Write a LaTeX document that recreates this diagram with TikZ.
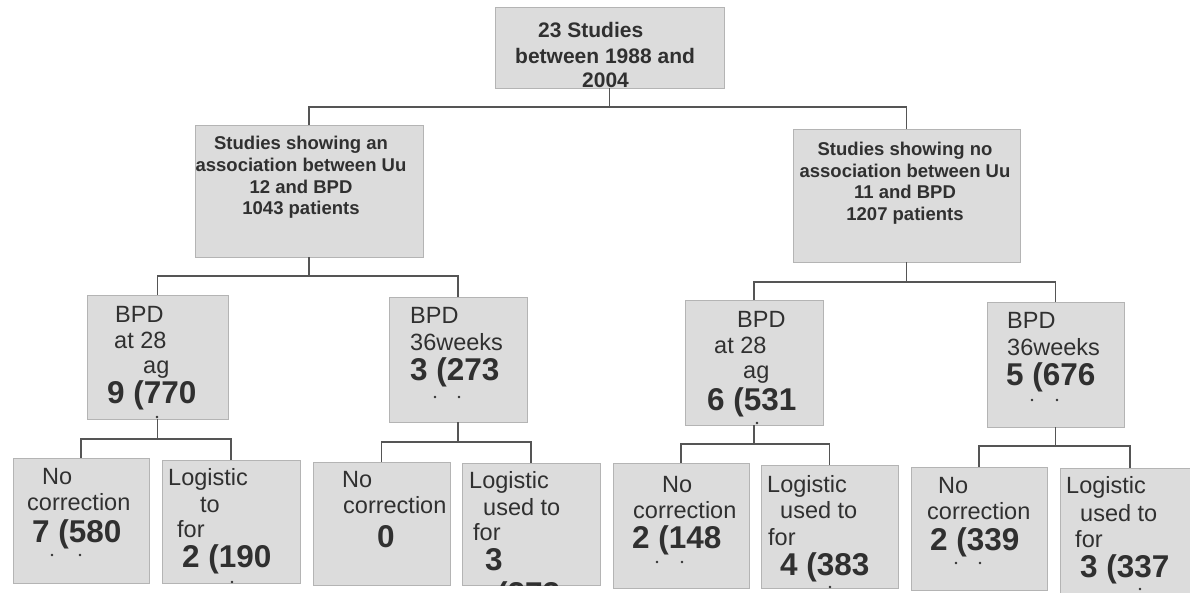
\documentclass[tikz,border=0pt]{standalone}
\usepackage{fontspec}
\setmainfont{Liberation Sans}
\definecolor{boxfill}{HTML}{DCDCDC}
\definecolor{boxline}{HTML}{B4B4B4}
\definecolor{linecol}{HTML}{555555}
\definecolor{txt}{HTML}{303030}
\tikzset{
  box/.style={draw=boxline, fill=boxfill, line width=0.8pt, inner sep=0pt, outer sep=0pt},
  conn/.style={draw=linecol, line width=1.3pt},
  reg/.style={font=\fontsize{23.5}{28}\selectfont, text=txt, inner sep=0pt, anchor=base west},
  big/.style={font=\fontsize{31.5}{36}\selectfont\bfseries, text=txt, inner sep=0pt, anchor=base west},
  topt/.style={font=\fontsize{21}{25}\selectfont\bfseries, text=txt, inner sep=0pt, anchor=base west},
  midt/.style={font=\fontsize{18.5}{22}\selectfont\bfseries, text=txt, inner sep=0pt, anchor=base},
  speck/.style={fill=txt, draw=none, circle, inner sep=0pt, minimum size=2.6pt}
}
\begin{document}
\begin{tikzpicture}[x=1pt,y=-1pt]
\clip (0,0) rectangle (1190,592);
\fill[white] (0,0) rectangle (1190,592);
% boxes
\node[box, minimum width=229pt, minimum height=81pt] (top) at (609.5,47.5) {};
\node[box, minimum width=228pt, minimum height=132pt] (midL) at (309,191) {};
\node[box, minimum width=227pt, minimum height=133pt] (midR) at (906.5,195.5) {};
\node[box, minimum width=141pt, minimum height=124pt] (A) at (157.5,357) {};
\node[box, minimum width=138pt, minimum height=125pt] (D) at (458,359.5) {};
\node[box, minimum width=138pt, minimum height=125pt] (G) at (754,362.5) {};
\node[box, minimum width=137pt, minimum height=125pt] (J) at (1055.5,364.5) {};
\node[box, minimum width=136pt, minimum height=125pt] (B) at (81,520.5) {};
\node[box, minimum width=138pt, minimum height=123pt] (C) at (231,521.5) {};
\node[box, minimum width=137pt, minimum height=123pt] (E) at (381.5,523.5) {};
\node[box, minimum width=138pt, minimum height=122pt] (F) at (531,524) {};
\node[box, minimum width=136pt, minimum height=125pt] (H) at (681,525.5) {};
\node[box, minimum width=137pt, minimum height=123pt] (I) at (829.5,526.5) {};
\node[box, minimum width=136pt, minimum height=123pt] (K) at (979,528.5) {};
\node[box, minimum width=140pt, minimum height=125pt] (L) at (1130,530.5) {};
% connectors
\draw[conn] (top.south) -- ++(0,19) -| (midL.north);
\draw[conn] (top.south) -- ++(0,19) -| (midR.north);
\draw[conn] (midL.south) -- ++(0,19) -| (A.north);
\draw[conn] (midL.south) -- ++(0,19) -| (D.north);
\draw[conn] (midR.south) -- ++(0,20) -| (G.north);
\draw[conn] (midR.south) -- ++(0,20) -| (J.north);
\draw[conn] (A.south) -- ++(0,20) -| (B.north);
\draw[conn] (A.south) -- ++(0,20) -| (C.north);
\draw[conn] (D.south) -- ++(0,20) -| (E.north);
\draw[conn] (D.south) -- ++(0,20) -| (F.north);
\draw[conn] (G.south) -- ++(0,19) -| (H.north);
\draw[conn] (G.south) -- ++(0,19) -| (I.north);
\draw[conn] (J.south) -- ++(0,19) -| (K.north);
\draw[conn] (J.south) -- ++(0,19) -| (L.north);
% top text
\node[topt] (t1) at (538,37) {23 Studies};
\node[topt] (t2) at (515,63) {between 1988 and};
\node[topt] (t3) at (582,87) {2004};
% mid texts
\node[midt] (l1) at (301,149) {Studies showing an};
\node[midt] (l2) at (301,171) {association between Uu};
\node[midt] (l3) at (301,193) {12 and BPD};
\node[midt] (l4) at (301,214) {1043 patients};
\node[midt] (r1) at (905,155) {Studies showing no};
\node[midt] (r2) at (905,177) {association between Uu};
\node[midt] (r3) at (905,198) {11 and BPD};
\node[midt] (r4) at (905,220) {1207 patients};
% A
\node[reg] (a1) at (115,322) {BPD};
\node[reg] (a2) at (114,348) {at 28};
\node[reg] (a3) at (143,373) {ag};
\node[big] (a4) at (107,403) {9 (770};
% D
\node[reg] (d1) at (410,323) {BPD};
\node[reg] (d2) at (410,350) {36weeks};
\node[big] (d3) at (410,380) {3 (273};
% G
\node[reg] (g1) at (737,327) {BPD};
\node[reg] (g2) at (714,353) {at 28};
\node[reg] (g3) at (743,378) {ag};
\node[big] (g4) at (707,410) {6 (531};
% J
\node[reg] (j1) at (1007,328) {BPD};
\node[reg] (j2) at (1007,355) {36weeks};
\node[big] (j3) at (1006,385) {5 (676};
% B
\node[reg] (b1) at (42,484) {No};
\node[reg] (b2) at (27,510) {correction};
\node[big] (b3) at (32,542) {7 (580};
% C
\node[reg] (c1) at (168,485) {Logistic};
\node[reg] (c2) at (200,512) {to};
\node[reg] (c3) at (177,537) {for};
\node[big] (c4) at (182,567) {2 (190};
% E
\node[reg] (e1) at (342,487) {No};
\node[reg] (e2) at (343,513) {correction};
\node[big] (e3) at (377,547) {0};
% F
\node[reg] (f1) at (469,488) {Logistic};
\node[reg] (f2) at (483,515) {used to};
\node[reg] (f3) at (473,540) {for};
\node[big] (f4) at (485,570) {3};
\begin{scope}
\clip (F.south west) rectangle (F.north east);
\node[big] (f5) at (497,604) {(273};
\end{scope}
% H
\node[reg] (h1) at (662,492) {No};
\node[reg] (h2) at (633,518) {correction};
\node[big] (h3) at (632,548) {2 (148};
% I
\node[reg] (i1) at (767,492) {Logistic};
\node[reg] (i2) at (780,518) {used to};
\node[reg] (i3) at (768,545) {for};
\node[big] (i4) at (780,575) {4 (383};
% K
\node[reg] (k1) at (938,493) {No};
\node[reg] (k2) at (927,519) {correction};
\node[big] (k3) at (930,550) {2 (339};
% L
\node[reg] (m1) at (1066,493) {Logistic};
\node[reg] (m2) at (1080,521) {used to};
\node[reg] (m3) at (1075,547) {for};
\node[big] (m4) at (1080,577) {3 (337};
% specks
\node[speck] (s1) at (157,417) {};
\node[speck] (s2) at (435,397) {};
\node[speck] (s3) at (459,397) {};
\node[speck] (s4) at (757,423) {};
\node[speck] (s5) at (1032,400) {};
\node[speck] (s6) at (1057,400) {};
\node[speck] (s7) at (52,555) {};
\node[speck] (s8) at (80,555) {};
\node[speck] (s9) at (232,582) {};
\node[speck] (s10) at (657,562) {};
\node[speck] (s11) at (682,562) {};
\node[speck] (s12) at (830,587) {};
\node[speck] (s13) at (956,563) {};
\node[speck] (s14) at (980,563) {};
\node[speck] (s15) at (1140,589) {};
\end{tikzpicture}
\end{document}
